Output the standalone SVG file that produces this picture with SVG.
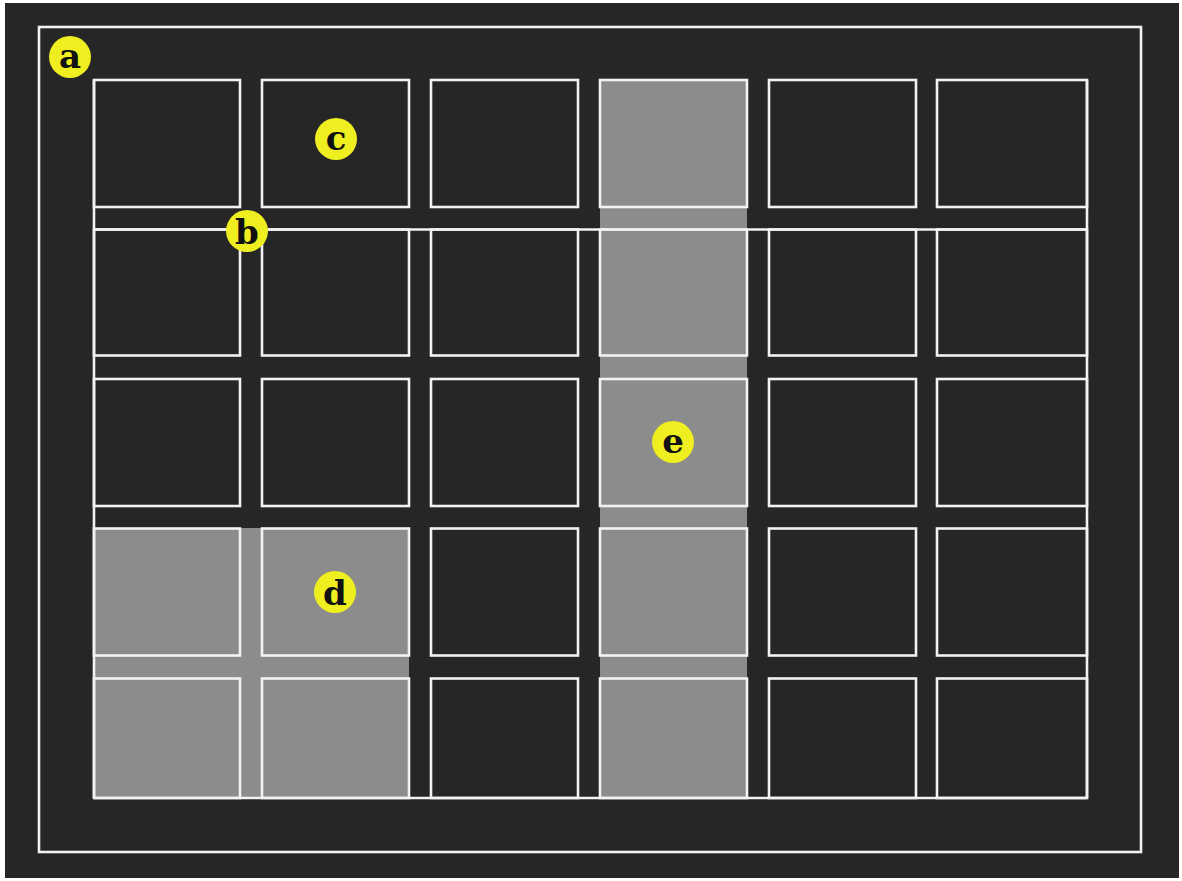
<svg xmlns="http://www.w3.org/2000/svg" width="1182" height="881" viewBox="0 0 1182 881">
<style>
.ln{stroke:#f2f2f2;stroke-width:2.6;fill:none}
.cell{stroke:#f2f2f2;stroke-width:2.6;fill:none}
.gray{fill:#8c8c8c}
.lbl circle{fill:#eeee20}
.lbl text{font-family:"DejaVu Serif","Liberation Serif",serif;font-weight:bold;font-size:34px;fill:#111;text-anchor:middle}
</style>
<rect x="0" y="0" width="1182" height="881" fill="#ffffff"/>
<rect x="5" y="3" width="1174" height="875" fill="#262626"/>
<rect x="39" y="27" width="1102" height="825" class="ln"/>
<g id="fills">
<rect class="gray" x="600" y="80" width="147" height="718"/>
<rect class="gray" x="94" y="528" width="315" height="270"/>
</g>
<g id="frame">
<line class="ln" x1="94" y1="80" x2="94" y2="798"/>
<line class="ln" x1="1087" y1="80" x2="1087" y2="798"/>
<line class="ln" x1="94" y1="229.5" x2="1087" y2="229.5"/>
<line class="ln" x1="94" y1="798" x2="1087" y2="798"/>
</g>
<g id="cells">
<g id="row1">
<rect class="cell" x="94" y="80" width="146" height="127"/>
<rect class="cell" x="262" y="80" width="147" height="127"/>
<rect class="cell" x="431" y="80" width="147" height="127"/>
<rect class="cell" x="600" y="80" width="147" height="127"/>
<rect class="cell" x="769" y="80" width="147" height="127"/>
<rect class="cell" x="937" y="80" width="150" height="127"/>
</g>
<g id="row2">
<rect class="cell" x="94" y="229.5" width="146" height="126"/>
<rect class="cell" x="262" y="229.5" width="147" height="126"/>
<rect class="cell" x="431" y="229.5" width="147" height="126"/>
<rect class="cell" x="600" y="229.5" width="147" height="126"/>
<rect class="cell" x="769" y="229.5" width="147" height="126"/>
<rect class="cell" x="937" y="229.5" width="150" height="126"/>
</g>
<g id="row3">
<rect class="cell" x="94" y="379" width="146" height="127"/>
<rect class="cell" x="262" y="379" width="147" height="127"/>
<rect class="cell" x="431" y="379" width="147" height="127"/>
<rect class="cell" x="600" y="379" width="147" height="127"/>
<rect class="cell" x="769" y="379" width="147" height="127"/>
<rect class="cell" x="937" y="379" width="150" height="127"/>
</g>
<g id="row4">
<rect class="cell" x="94" y="528.5" width="146" height="127"/>
<rect class="cell" x="262" y="528.5" width="147" height="127"/>
<rect class="cell" x="431" y="528.5" width="147" height="127"/>
<rect class="cell" x="600" y="528.5" width="147" height="127"/>
<rect class="cell" x="769" y="528.5" width="147" height="127"/>
<rect class="cell" x="937" y="528.5" width="150" height="127"/>
</g>
<g id="row5">
<rect class="cell" x="94" y="678.5" width="146" height="119.5"/>
<rect class="cell" x="262" y="678.5" width="147" height="119.5"/>
<rect class="cell" x="431" y="678.5" width="147" height="119.5"/>
<rect class="cell" x="600" y="678.5" width="147" height="119.5"/>
<rect class="cell" x="769" y="678.5" width="147" height="119.5"/>
<rect class="cell" x="937" y="678.5" width="150" height="119.5"/>
</g>
</g>
<g id="label-a" class="lbl"><circle cx="70" cy="57" r="21"/><text x="70" y="68">a</text></g>
<g id="label-b" class="lbl"><circle cx="247" cy="231" r="21"/><text x="247" y="244">b</text></g>
<g id="label-c" class="lbl"><circle cx="336" cy="139" r="21"/><text x="336" y="150">c</text></g>
<g id="label-d" class="lbl"><circle cx="335" cy="592" r="21"/><text x="335" y="605">d</text></g>
<g id="label-e" class="lbl"><circle cx="673" cy="442" r="21"/><text x="673" y="453">e</text></g>
</svg>
